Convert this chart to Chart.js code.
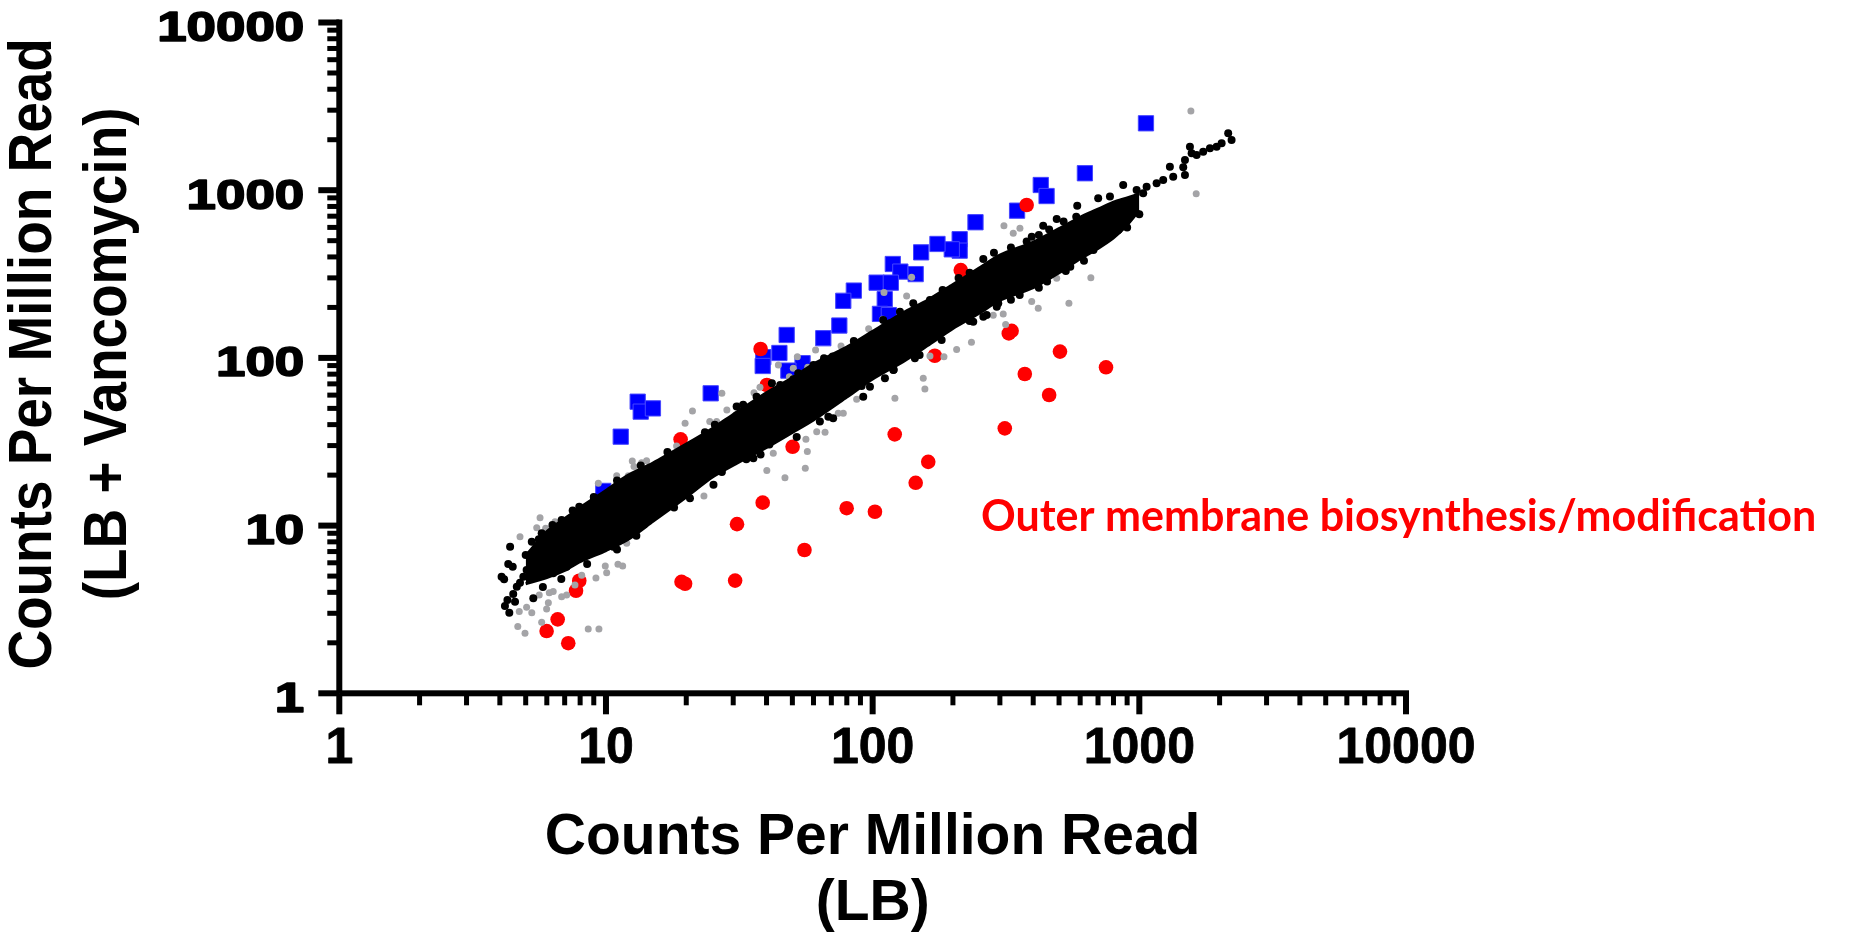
<!DOCTYPE html>
<html>
<head>
<meta charset="utf-8">
<script src="https://cdn.jsdelivr.net/npm/chart.js@4.4.1/dist/chart.umd.min.js"></script>
<style>
  html, body { margin: 0; padding: 0; background: #ffffff; }
  #wrap { width: 1855px; height: 932px; }
</style>
</head>
<body>
<div id="wrap"><canvas id="c" width="1855" height="932"></canvas></div>
<script>
// ---- axis ticks -------------------------------------------------------
const tickValues = [1, 10, 100, 1000, 10000];
const tickLabels = ['1', '10', '100', '1000', '10000'];
const minorSteps = [2, 3, 4, 5, 6, 7, 8, 9];

// ---- text -------------------------------------------------------------
const xTitleLines = ['Counts Per Million Read', '(LB)'];
const yTitleLines = ['Counts Per Million Read', '(LB + Vancomycin)'];
const noteText = 'Outer membrane biosynthesis/modification';

// ---- all genes: envelope of the solid, overlapping mass of points ------
const coreX    = [5, 6, 7, 8, 10, 12, 15, 20, 25, 30, 40, 50, 60, 80, 100, 130, 160, 200, 250, 300, 400, 500, 600, 700, 800, 900, 1000];
const coreHigh = [6.6, 9.2, 11.0, 12.8, 16.2, 19.8, 23.6, 30.6, 37.8, 46, 62, 76, 92, 116, 144, 186, 220, 274, 342, 410, 490, 590, 690, 770, 850, 900, 950];
const coreLow  = [4.5, 4.9, 5.4, 6.1, 7.1, 8.2, 10.6, 14.8, 19.4, 22.9, 29.2, 35.9, 42.6, 58.4, 74.8, 95, 118, 150, 184, 221, 262, 322, 390, 450, 520, 620, 760];

// ---- all genes: individual points around the mass ----------------------
const geneX = [4.06, 4.15, 4.30, 4.47, 4.34, 4.18, 4.27, 4.56, 4.49, 4.63, 4.76, 5.0, 5.27, 5.74, 5.34, 4.9, 5.04, 6.82, 7.94, 6.34, 7.12, 10.65, 4.37,
  65.7, 52.6, 50.4, 41.0, 44.7, 35.7, 25.3, 20.65, 18.67, 90.9, 97.7, 68.2, 63.4, 144, 181.4, 111.2, 119.5, 164, 142, 126.6, 116.1, 238.4, 295.8, 267.6,
  2154, 2218, 2035, 1949, 1840, 1736, 1640, 1548, 1571, 1483, 1461, 1483, 1340, 1302, 1229, 1161, 1065, 1034, 977, 870, 949, 896, 834, 870, 834,
  712, 692, 653, 701, 585, 490, 436, 395, 285, 260, 743, 707,
  23.5, 25.6, 30.9, 32.7, 36.7, 41.9, 60, 70.8, 15.5, 17.4, 22.5, 27.2, 33.6, 51.9, 71.1, 92.2,
  179, 231, 292, 356, 451, 551, 673, 109.5, 183, 231, 292, 378, 459, 580, 776,
  5.6, 6.3, 7.5, 9, 11, 13.5, 17, 45, 85, 210, 330, 420, 520,
  5.8, 6.8, 8.5, 11, 13, 18, 38, 120, 150, 260, 330, 420, 530, 620, 900, 1000];
const geneY = [4.96, 4.78, 5.90, 5.69, 3.02, 3.32, 3.60, 3.52, 3.91, 4.32, 4.57, 6.68, 8.02, 9.0, 3.69, 4.96, 5.43, 10.8, 12.96, 5.19, 5.69, 7.48, 7.48,
  99.5, 80.9, 74.6, 30.5, 34.6, 25.2, 17.5, 14.55, 14.87, 68.0, 67.3, 44.6, 41.7, 99.5, 127.9, 75.6, 84.7, 221.4, 211.7, 188.6, 160.8, 164.4, 211.7, 180.3,
  2184, 1992, 1904, 1817, 1777, 1696, 1622, 1817, 1660, 1514, 1369, 1232, 1204, 1380, 1150, 1099, 1049, 958, 1003, 1074, 874, 835, 797, 635, 579,
  528, 482, 505, 895, 808, 673, 614, 528, 424, 389, 528, 493,
  36, 39.9, 51.3, 52.5, 58.6, 70.5, 90.6, 101.8, 15.2, 17.9, 18.8, 20.9, 24.9, 33.8, 43.6, 58.6,
  146, 166, 202, 237, 285, 350, 440, 168, 254, 322, 381, 494, 582, 694, 917,
  8.3, 10.1, 12.3, 14.8, 18.6, 22.8, 27.5, 69, 126, 300, 455, 540, 650,
  4.3, 4.8, 5.9, 7.2, 8.7, 12.8, 26.5, 85, 104, 176, 222, 262, 330, 380, 600, 720];

// ---- genes with a moderate change (grey) --------------------------------
const greyX = [12.55, 12.74, 10.97, 12.12, 9.36, 5.66, 5.50, 5.94, 4.76, 6.44, 9.94, 11.09, 11.55, 10.06, 9.17, 8.11, 7.65, 7.12, 6.82, 6.34, 6.13, 5.62, 6.08, 5.99, 5.04, 4.73, 5.27, 5.74, 4.67, 4.97, 8.58, 9.41, 11.96,
  96.6, 76.1, 61.1, 52.2, 57.1, 50.4, 48.7, 44.3, 35.9, 37.8, 31.5, 28.4, 27.2, 21.1, 19.8, 24.5, 26.0, 18.4, 17.0, 13.6, 14.2, 87.1, 74.3, 77.6, 61.7, 66.3, 56.2, 56.9, 42.4, 40.1, 46.9, 55.9, 23.3,
  1561, 1634, 310.7, 356.7, 336.7, 140, 134.1, 110.3, 109, 490, 658, 417.8, 394.8, 417.8, 544.5, 283.3, 308.8, 315.3, 234.7, 206.5, 185.1, 164, 154.8, 157, 121.2];
const greyY = [24.3, 22.5, 19.8, 19.8, 17.9, 11.15, 9.72, 9.64, 8.59, 10.55, 5.74, 5.88, 5.74, 5.24, 4.87, 5.05, 4.42, 3.86, 3.77, 4.04, 3.98, 3.86, 3.47, 3.18, 3.26, 3.07, 3.02, 2.65, 2.50, 2.28, 2.42, 2.42, 7.84,
  149.3, 117.8, 111.5, 101.7, 87.9, 86.7, 77.3, 90.7, 62.0, 66.8, 51.7, 48.9, 61.5, 48.2, 40.7, 41.7, 41.7, 29.8, 27.0, 23.7, 24.4, 56.6, 46.7, 46.7, 36.3, 36.0, 32.7, 27.7, 27.0, 21.3, 19.3, 22.0, 15.0,
  2967, 953, 614, 593, 553, 302.5, 233.9, 245.5, 169.9, 298.3, 300.8, 268.5, 216.9, 197.6, 211.7, 179.8, 182.7, 158.2, 124.1, 112.2, 101.7, 102.6, 75.6, 65.3, 57.4];

// ---- strongly induced genes (blue squares) ------------------------------
const upX = [1059, 625, 427, 449, 348, 243, 212, 212, 198, 175, 152, 119, 127, 145, 103.5, 117, 85, 77.6, 111, 106.5, 115, 75, 65.3, 54.6, 48.3, 47.6, 44.7, 38.9, 38.7, 24.7, 13.15, 13.5, 15, 11.36, 9.77];
const upY = [2506, 1262, 1074, 923, 755, 644, 510, 436, 444, 478, 426, 363, 327, 316, 281, 281, 252, 219, 224, 183, 180, 156, 131, 93, 84, 137, 107, 101, 89.5, 61.5, 54.8, 47.8, 50, 33.9, 16.1];

// ---- outer membrane biosynthesis/modification genes (red) ---------------
const omX = [378, 214, 38.0, 40.1, 19.05, 171, 324, 332, 504, 750, 372, 459, 313, 121, 161.6, 145, 50.1, 38.7, 79.9, 102, 7.94, 7.72, 6.59, 5.99, 7.22, 31, 55.5, 19.2, 19.8, 30.5];
const omY = [816, 334, 113, 68.9, 32.7, 103, 140, 145, 109, 87.9, 80.2, 60.1, 38.0, 35.0, 24.0, 18.0, 29.5, 13.7, 12.7, 12.1, 4.69, 4.09, 2.76, 2.35, 1.99, 10.2, 7.15, 4.62, 4.5, 4.7];

const pairs = (xs, ys) => xs.map((x, i) => ({ x: x, y: ys[i] }));

const BOLD = '"Liberation Sans", Arial, sans-serif';

// draws text with an optional horizontal stretch along its own baseline
function drawText(ctx, txt, x, y, font, o) {
  ctx.save();
  ctx.translate(x, y);
  if (o.rotate) ctx.rotate(o.rotate);
  ctx.scale(o.sx || 1, 1);
  ctx.font = font;
  ctx.fillStyle = o.color || '#000';
  ctx.textAlign = o.align || 'center';
  ctx.textBaseline = 'alphabetic';
  ctx.fillText(txt, 0, 0);
  if (o.stroke) {
    ctx.strokeStyle = o.color || '#000';
    ctx.lineWidth = o.stroke;
    ctx.lineJoin = 'round';
    ctx.strokeText(txt, 0, 0);
  }
  ctx.restore();
}

// axis lines, tick marks, tick labels, titles and the note
const decorPlugin = {
  id: 'decor',
  afterDraw(chart) {
    const ctx = chart.ctx;
    const xs = chart.scales.x, ys = chart.scales.y;
    const x0 = xs.getPixelForValue(1), x1 = xs.getPixelForValue(10000);
    const y0 = ys.getPixelForValue(1), y1 = ys.getPixelForValue(10000);
    const AX = 6, MAJ = 21, MIN = 12;
    ctx.save();
    ctx.fillStyle = '#000';
    // axis lines
    ctx.fillRect(x0 - AX / 2, y1 - AX / 2, AX, y0 - y1 + AX / 2);
    ctx.fillRect(x0, y0 - AX / 2, x1 - x0 + AX / 2, AX);
    // ticks
    tickValues.forEach((v, i) => {
      const px = xs.getPixelForValue(v), py = ys.getPixelForValue(v);
      ctx.fillRect(px - AX / 2, y0, AX, MAJ);
      ctx.fillRect(x0 - MAJ, py - AX / 2, MAJ, AX);
      if (i < tickValues.length - 1) {
        minorSteps.forEach(m => {
          const qx = xs.getPixelForValue(v * m), qy = ys.getPixelForValue(v * m);
          ctx.fillRect(qx - 2.5, y0, 5, MIN);
          ctx.fillRect(x0 - MIN, qy - 2.5, MIN, 5);
        });
      }
      drawText(ctx, tickLabels[i], px, y0 + 70, 'bold 50px ' + BOLD, { align: 'center', stroke: 0.8 });
      drawText(ctx, tickLabels[i], x0 - 35, py + 18.5, 'bold 42px ' + BOLD, { align: 'right', sx: 1.26, stroke: 1.6 });
    });
    // titles
    const cx = (chart.chartArea.left + chart.chartArea.right) / 2;
    const cy = (chart.chartArea.top + chart.chartArea.bottom) / 2 - 4;
    drawText(ctx, xTitleLines[0], cx, 854, 'bold 57px ' + BOLD, { align: 'center' });
    drawText(ctx, xTitleLines[1], cx, 920, 'bold 57px ' + BOLD, { align: 'center' });
    drawText(ctx, yTitleLines[0], 51, cy, 'bold 61px ' + BOLD, { align: 'center', rotate: -Math.PI / 2, sx: 0.9 });
    drawText(ctx, yTitleLines[1], 126, cy, 'bold 61px ' + BOLD, { align: 'center', rotate: -Math.PI / 2, sx: 0.9 });
    // note
    drawText(ctx, noteText, 981, 531, 'bold 43px Lato, "Open Sans", sans-serif', { align: 'left', color: '#ff0000' });
    ctx.restore();
  }
};

new Chart(document.getElementById('c'), {
  type: 'scatter',
  data: {
    datasets: [
      { label: 'core upper', type: 'line', data: pairs(coreX, coreHigh), borderColor: '#000', borderWidth: 3,
        backgroundColor: '#000', pointRadius: 0, fill: '+1', tension: 0.25, order: 2 },
      { label: 'core lower', type: 'line', data: pairs(coreX, coreLow), borderColor: '#000', borderWidth: 3,
        pointRadius: 0, fill: false, tension: 0.25, order: 2 },
      { label: 'genes', data: pairs(geneX, geneY), backgroundColor: '#000', pointRadius: 4, pointBorderWidth: 0, order: 1 },
      { label: 'moderate', data: pairs(greyX, greyY), backgroundColor: '#a4a4a7', pointRadius: 3.5, pointBorderWidth: 0, order: 3 },
      { label: 'outer membrane', data: pairs(omX, omY), backgroundColor: '#ff0000', pointRadius: 7.3, pointBorderWidth: 0, order: 4 },
      { label: 'induced', data: pairs(upX, upY), pointStyle: 'rect', backgroundColor: '#0000ff', borderColor: '#4646ff',
        pointBorderWidth: 1, pointRadius: 10.8, order: 5 }
    ]
  },
  options: {
    responsive: false,
    devicePixelRatio: 1,
    animation: false,
    events: [],
    layout: { padding: { left: 0, top: 22.5, right: 449, bottom: 0 } },
    plugins: { legend: { display: false }, tooltip: { enabled: false }, title: { display: false } },
    scales: {
      x: {
        type: 'logarithmic', position: 'bottom', min: 1, max: 10000,
        grid: { display: false }, border: { display: false }, ticks: { display: false },
        afterFit(s) { s.height = 932 - 693.3; }
      },
      y: {
        type: 'logarithmic', position: 'left', min: 1, max: 10000,
        grid: { display: false }, border: { display: false }, ticks: { display: false },
        afterFit(s) { s.width = 339.3; }
      }
    }
  },
  plugins: [decorPlugin]
});
</script>
</body>
</html>
